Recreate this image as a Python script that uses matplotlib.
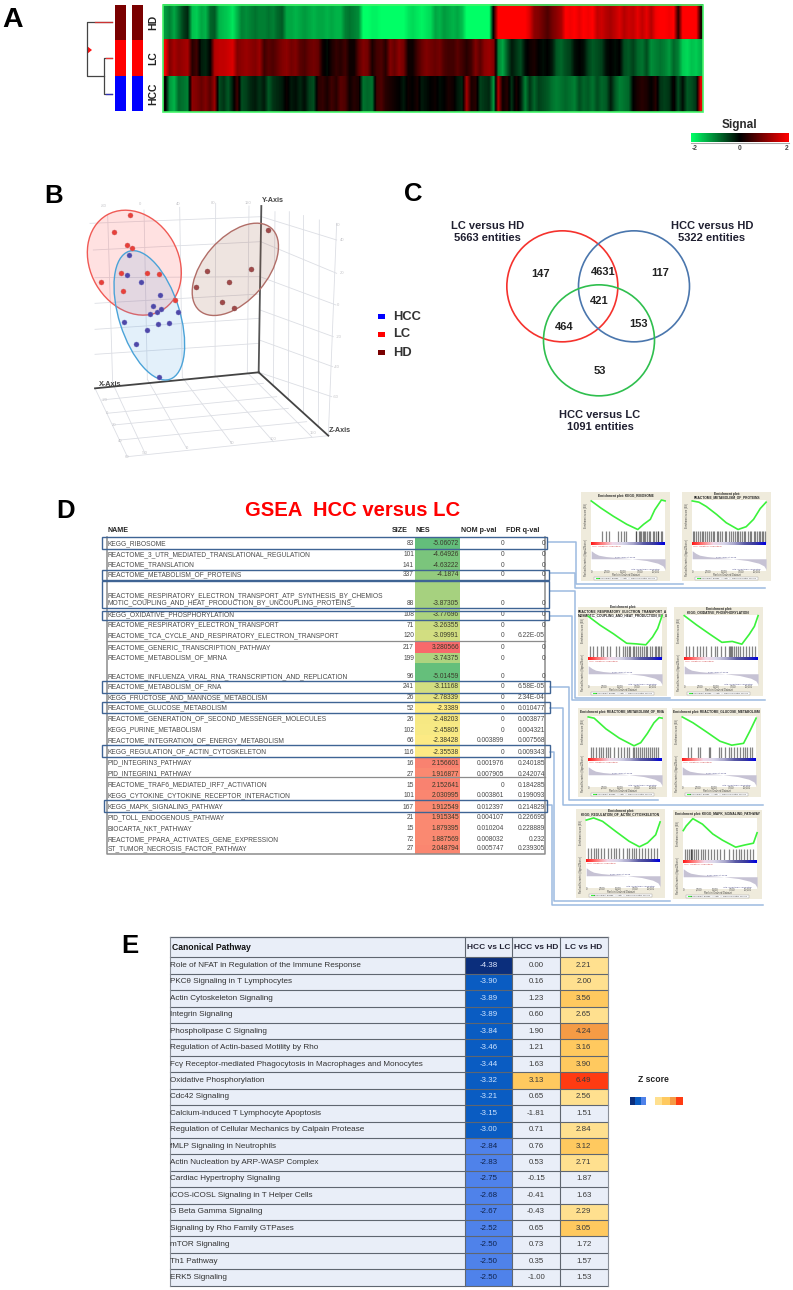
import numpy as np
import matplotlib
matplotlib.use("Agg")
import matplotlib.pyplot as plt
from matplotlib.colors import LinearSegmentedColormap
from matplotlib.patches import Ellipse, Circle, Rectangle

plt.rcParams['font.family'] = ['Liberation Sans', 'DejaVu Sans']

W, H = 793, 1290

###############################################################################
#Data
###############################################################################
#Panel A - signal per gene cluster
hd_signal = [-1.2,-1.0,-1.3,-0.9,-0.5,-0.3, -1.5,-1.6,-1.3,-1.4, -0.8,-0.7, -1.4,-1.5,-1.6,-1.8,-1.4,
             -1.0,-1.1,-1.0,-0.9,-1.0,-1.0,-0.9,-1.0,-0.8,-0.7,
             -1.3,-1.3,-1.4,-1.3,-1.2,-1.3,-1.4,-1.3,-1.3,-1.4,-1.3,-1.4,-1.4,
             -1.0,-0.9,-1.0,-1.1,
             -2,-2,-1.9,-1.9,-2,-2,-2,-2,-2,-2,-1.8,-1.7,-1.8,-1.9,-1.8,-1.7,
             -1.3,-1.4,-1.2,-1.3,-1.4,-1.3,-1.5, -2,-2,-2,-2,-2,-2, 0.2,
             2,2,2,2,2,2,2, 1.7, 1.1,1.0,0.8,0.6,0.9,1.1,1.3,
             2,1.9,2,1.8,2,1.9,2, 1.5,1.6,1.4,1.3,1.5,1.7,1.4,1.6,1.5,1.8,
             1.5,1.8,1.4,1.9,2,2,1.9,2, 0.3, 2,2,2,2, 0.2]
lc_signal = [1.9, 1.0,1.3,1.1,1.2,1.3, 0.3,0.5, -0.2,-0.3,0.0, 1.4,1.5,1.5,1.6,1.7,
             1.0,1.1,1.2,1.1,1.0,1.2, 0.5,0.7,0.6,0.8, 1.0,1.1,0.9,1.0,0.7,0.6,0.8,0.9,0.8,
             0.1,-0.1,0.2,0.4,0.3,0.5,0.1,0.1, 0.7,1.0,0.9, 0.2,0.5,0.6,0.3, 1.0,0.8,1.1,0.9,
             0.1,0.1, 0.5,0.8,1.0,0.9,
             0.8,0.9,0.6,0.5,0.5,0.7,0.5, 0.3,0.5,1.0,0.7,1.1,1.2, 1.0,
             -1.0,-1.3,-0.7, -0.2,-0.4,-0.6,-0.1, 0.1,0.2,0.0,-0.1,0.0,-0.2,
             -0.7,-0.8,-0.6,-0.5, -0.1,0,-0.1, -0.5,-0.7,-0.6,-0.5, -0.1,0.0,-0.1,0.0,
             -0.6,-0.7,-0.5,-0.8,-0.9,-0.6, -1.1,-1.0,-0.9,-1.0,-1.2,-0.8,-1.0,
             -1.6,-1.7,-1.5,-1.6, -1.4]
hcc_signal = [0.1, -1.2,-1.4,-0.8,-0.9,-1.0, 1.1,1.0,0.8,1.0,0.7,1.2, -0.6,-0.4,-0.7,-0.2, 0.5,
              -0.6,-0.5,-0.3,-0.2,-0.4,-0.2, -0.7,-0.4,-0.3,-0.2, 0.1,-0.2,-0.1,-0.3,-0.1,-0.5,-0.6,
              0.3,0.4,0.2,0.5,0.3,0.7,0.6,0.1,0.3,0.2, -0.9,-0.8,-0.9,
              0.5,0.6,0.3,0.2,0.1,0.0,-0.2,0.1,0.0,0.2,-0.2,-0.1,0.0,
              0.1,-0.1,0.0,0.2,0.1,-0.2,-0.3, 1.3, 0.2,0.3, -0.5,-0.4,-0.3, -1.2, 1.4,
              0.1,0.3,-0.4,0.2,-0.2, -1.0,-0.4,-0.8,-0.5,-0.6,
              -0.7,-0.9,-1.0,-0.9,-0.8,-0.9,-1.0, -0.6,-0.8,-0.7,-0.9,-0.6,-0.8,-0.7,
              -0.2,-0.7,-1.0,-0.9,-0.8, 0.0,0.2,0.3,0.2,0.0,0.3, -0.4,-0.5,-0.4,
              0.1,-0.6, -0.1,-0.7,-0.6,-0.4, 1.8]
group_labels = ["HD", "LC", "HCC"]
group_colors = ["#7a0000", "#ff0000", "#0000ff"]
signal_ticks = [-2, 0, 2]

#Panel B - 3D PCA, projected positions
lc_x = [271,222,260,275,243,321,357,184,248,406]
lc_y = [136,187,226,234,309,309,311,336,363,390]
hcc_x = [268,261,302,360,340,363,351,330,413,252,388,354,322,288,358]
hcc_y = [254,315,336,375,407,417,427,432,425,457,459,463,480,522,620]
hd_x = [683,502,632,568,467,546,581]
hd_y = [180,304,297,336,351,397,415]

#Panel C - venn counts
venn_counts = ["147", "4631", "117", "421", "464", "153", "53"]
venn_sets = ["LC versus HD\n5663 entities", "HCC versus HD\n5322 entities", "HCC versus LC\n1091 entities"]

#Panel D - GSEA table
gsea_names = ["KEGG_RIBOSOME", "REACTOME_3_UTR_MEDIATED_TRANSLATIONAL_REGULATION", "REACTOME_TRANSLATION",
              "REACTOME_METABOLISM_OF_PROTEINS",
              "REACTOME_RESPIRATORY_ELECTRON_TRANSPORT_ATP_SYNTHESIS_BY_CHEMIOS\nMOTIC_COUPLING_AND_HEAT_PRODUCTION_BY_UNCOUPLING_PROTEINS_",
              "KEGG_OXIDATIVE_PHOSPHORYLATION", "REACTOME_RESPIRATORY_ELECTRON_TRANSPORT",
              "REACTOME_TCA_CYCLE_AND_RESPIRATORY_ELECTRON_TRANSPORT", "REACTOME_GENERIC_TRANSCRIPTION_PATHWAY",
              "REACTOME_METABOLISM_OF_MRNA", "REACTOME_INFLUENZA_VIRAL_RNA_TRANSCRIPTION_AND_REPLICATION",
              "REACTOME_METABOLISM_OF_RNA", "KEGG_FRUCTOSE_AND_MANNOSE_METABOLISM", "REACTOME_GLUCOSE_METABOLISM",
              "REACTOME_GENERATION_OF_SECOND_MESSENGER_MOLECULES", "KEGG_PURINE_METABOLISM",
              "REACTOME_INTEGRATION_OF_ENERGY_METABOLISM", "KEGG_REGULATION_OF_ACTIN_CYTOSKELETON",
              "PID_INTEGRIN3_PATHWAY", "PID_INTEGRIN1_PATHWAY", "REACTOME_TRAF6_MEDIATED_IRF7_ACTIVATION",
              "KEGG_CYTOKINE_CYTOKINE_RECEPTOR_INTERACTION", "KEGG_MAPK_SIGNALING_PATHWAY", "PID_TOLL_ENDOGENOUS_PATHWAY",
              "BIOCARTA_NKT_PATHWAY", "REACTOME_PPARA_ACTIVATES_GENE_EXPRESSION", "ST_TUMOR_NECROSIS_FACTOR_PATHWAY"]
gsea_size = [83,101,141,337,88,108,71,120,217,199,96,241,26,52,26,102,66,116,16,27,15,101,167,21,15,72,27]
gsea_nes = ["-5.06072","-4.64926","-4.63222","-4.1874","-3.87305","-3.77696","-3.26355","-3.09991","3.280566",
            "-3.74375","-5.01459","-3.11168","-2.78339","-2.3389","-2.48203","-2.45805","-2.38428","-2.35538",
            "2.156601","1.916877","2.152641","2.030995","1.912549","1.915345","1.879395","1.887569","2.048794"]
gsea_nom = ["0","0","0","0","0","0","0","0","0","0","0","0","0","0","0","0","0.003899","0",
            "0.001976","0.007905","0","0.003861","0.012397","0.004107","0.010204","0.008032","0.005747"]
gsea_fdr = ["0","0","0","0","0","0","0","6.22E-05","0","0","0","6.58E-05","2.34E-04","0.010477","0.003877","0.004321",
            "0.007568","0.009343","0.240185","0.242074","0.184285","0.199093","0.214829","0.226695","0.228889","0.232","0.239305"]
gsea_row_bottom = [548.7,559.7,570.3,580,608.3,620,630.3,640.7,652.7,663.3,681.7,691.7,702.7,713.3,724.3,735.3,746,
                   757.3,768.3,779.3,790.3,801,812.3,823,834,845,853.7]

#Panel D - enrichment plot thumbnails
es_titles = ["Enrichment plot: KEGG_RIBOSOME", "Enrichment plot:\nREACTOME_METABOLISM_OF_PROTEINS",
             "Enrichment plot:\nREACTOME_RESPIRATORY_ELECTRON_TRANSPORT_A\nMOSMOTIC_COUPLING_AND_HEAT_PRODUCTION_BY_U",
             "Enrichment plot:\nKEGG_OXIDATIVE_PHOSPHORYLATION", "Enrichment plot: REACTOME_METABOLISM_OF_RNA",
             "Enrichment plot: REACTOME_GLUCOSE_METABOLISM",
             "Enrichment plot:\nKEGG_REGULATION_OF_ACTIN_CYTOSKELETON", "Enrichment plot: KEGG_MAPK_SIGNALING_PATHWAY"]
es_x = [[0,.13,.3,.48,.63,.71,.8,.86,.95,1],
        [0,.09,.19,.33,.46,.62,.73,.83,.92,1],
        [0,.16,.34,.52,.65,.78,.87,.94,1],
        [0,.165,.35,.51,.65,.78,.88,.95,1],
        [0,.08,.24,.42,.62,.71,.8,.89,.96,1],
        [0,.145,.33,.51,.67,.83,.92,1],
        [0,.1,.22,.4,.58,.72,.83,.94,1],
        [0,.04,.13,.26,.4,.53,.71,.83,.95,1]]
es_y = [[.03,.26,.53,.79,.96,.79,.63,.32,0,.03],
        [.03,.07,.21,.47,.74,.96,.87,.63,.28,.07],
        [.04,.33,.61,.92,.94,.97,.72,.44,.02],
        [.02,.32,.63,.89,.86,.95,.63,.37,.02],
        [.03,.07,.42,.72,.97,.87,.57,.22,.05,.07],
        [.03,.22,.52,.82,.95,.89,.47,.07],
        [.1,.03,.14,.47,.79,.97,.84,.58,.16],
        [.41,.26,.02,.2,.52,.72,.95,.88,.82,.48]]
es_hits = [[.15,.2,.24,.36,.4,.44,.47,.6,.61,.64,.66,.68,.7,.72,.73,.75,.78,.8,.83,.85,.87,.9,.91,.94,.96],
           [.01,.03,.05,.08,.1,.13,.14,.17,.2,.23,.26,.28,.3,.33,.35,.38,.4,.44,.46,.5,.53,.55,.58,.6,.62,.65,.68,.7,.72,.75,.78,.8,.83,.85,.88,.9,.92,.94,.96,.98],
           [.03,.07,.12,.17,.2,.25,.3,.38,.41,.47,.5,.52,.55,.57,.6,.62,.64,.67,.7,.73,.75,.78,.8,.83,.86,.9,.92,.94,.96,.98],
           [.03,.06,.12,.17,.22,.26,.3,.36,.41,.45,.5,.55,.6,.62,.63,.64,.67,.7,.73,.76,.8,.83,.88,.92,.96],
           [.04,.07,.1,.14,.17,.2,.24,.27,.3,.35,.4,.44,.48,.52,.55,.6,.62,.65,.68,.7,.73,.76,.78,.81,.84,.86,.89,.92,.95],
           [.08,.12,.22,.24,.36,.38,.5,.52,.58,.63,.66,.7,.74,.78,.82,.85,.88,.92,.95],
           [.03,.06,.1,.13,.16,.2,.24,.3,.33,.37,.4,.45,.5,.55,.58,.62,.65,.68,.72,.76,.8,.84,.88,.92,.96],
           [.02,.05,.08,.1,.11,.12,.14,.17,.2,.24,.27,.3,.33,.37,.42,.46,.5,.55,.62,.68,.72,.75,.78,.82,.86,.9,.94]]
rank_x = [0,.05,.1,.2,.4,.55,.75,.9,.97,1]
rank_y = [.66,.69,.71,.725,.74,.75,.77,.8,.83,.87]

#Panel E - Canonical pathways
path_names = ["Role of NFAT in Regulation of the Immune Response", "PKCθ Signaling in T Lymphocytes",
              "Actin Cytoskeleton Signaling", "Integrin Signaling", "Phospholipase C Signaling",
              "Regulation of Actin-based Motility by Rho",
              "Fcγ Receptor-mediated Phagocytosis in Macrophages and Monocytes", "Oxidative Phosphorylation",
              "Cdc42 Signaling", "Calcium-induced T Lymphocyte Apoptosis", "Regulation of Cellular Mechanics by Calpain Protease",
              "fMLP Signaling in Neutrophils", "Actin Nucleation by ARP-WASP Complex", "Cardiac Hypertrophy Signaling",
              "iCOS-iCOSL Signaling in T Helper Cells", "G Beta Gamma Signaling", "Signaling by Rho Family GTPases",
              "mTOR Signaling", "Th1 Pathway", "ERK5 Signaling"]
z_hcc_lc = [-4.38,-3.90,-3.89,-3.89,-3.84,-3.46,-3.44,-3.32,-3.21,-3.15,-3.00,-2.84,-2.83,-2.75,-2.68,-2.67,-2.52,-2.50,-2.50,-2.50]
z_hcc_hd = [0.00,0.16,1.23,0.60,1.90,1.21,1.63,3.13,0.65,-1.81,0.71,0.76,0.53,-0.15,-0.41,-0.43,0.65,0.73,0.35,-1.00]
z_lc_hd = [2.21,2.00,3.56,2.65,4.24,3.16,3.90,6.49,2.56,1.51,2.84,3.12,2.71,1.87,1.63,2.29,3.05,1.72,1.57,1.53]
z_headers = ["HCC vs LC", "HCC vs HD", "LC vs HD"]

###############################################################################
#Helpers
###############################################################################
fig = plt.figure(figsize=(W/100, H/100), dpi=100)

#Axes over a pixel box of the page, coordinates are pixels times s
def panel(x, y, w, h, s=1):
    ax = fig.add_axes([x/W, 1-(y+h)/H, w/W, h/H])
    ax.set_xlim(0, w*s)
    ax.set_ylim(h*s, 0)
    ax.axis("off")
    ax.patch.set_alpha(0)
    return ax

page = panel(0, 0, W, H)
dark = "#2b2b2b"

#Panel letters
for letter, lx, ly, fs in [("A",13,20,20.5),("B",54,196,18.5),("C",413,194,18.5),("D",66,511,18.5),("E",130,946,18.5)]:
    page.text(lx, ly, letter, fontsize=fs, fontweight="bold", color="black", ha="center", va="center")

###############################################################################
#Panel A
###############################################################################
signal_cmap = LinearSegmentedColormap.from_list("signal", ["#00ff66", "#000000", "#ff0000"])
row_edges = [5, 39.5, 76, 112]
for i, row in enumerate((hd_signal, lc_signal, hcc_signal)):
    #One image per row so the blur stays inside the row
    page.imshow(np.array(row).reshape(1, -1), cmap=signal_cmap, vmin=-2, vmax=2, aspect="auto",
                extent=(163, 703, row_edges[i+1], row_edges[i]), interpolation="bilinear")
page.add_patch(Rectangle((163, 5), 540, 107, fill=False, edgecolor="#45f56a", linewidth=1.2))

#Group side bars
group_edges = [5, 40, 76, 111]
for i in range(3):
    for bx in (115, 132):
        page.add_patch(Rectangle((bx, group_edges[i]), 11, group_edges[i+1]-group_edges[i], color=group_colors[i], linewidth=0))
    page.text(153, (group_edges[i]+group_edges[i+1])/2, group_labels[i], rotation=90, fontsize=7.5,
              fontweight="bold", color="#222222", ha="center", va="center")

#Dendrogram
page.plot([112,87,87,104], [22,22,76,76], color="#444444", lw=0.9)
page.plot([95,112], [22,22], color="#cc3333", lw=0.9)
page.plot([112,104,104,112], [58,58,94,94], color="#444444", lw=0.9)
page.plot([106,112], [58,58], color="#ee3333", lw=0.9)
page.plot([106,112], [94,94], color="#3333bb", lw=0.9)
page.fill([87,87,92], [46,54,50], color="#ff1111", linewidth=0)

#Signal scale
ramp = np.linspace(-2, 2, 98).reshape(1, -1)
page.imshow(ramp, cmap=signal_cmap, vmin=-2, vmax=2, aspect="auto", extent=(691, 789, 142, 133))
page.plot([691,789], [143,143], color="#aaaaaa", lw=0.8)
page.text(739, 125, "Signal", fontsize=8.5, fontweight="bold", color=dark, ha="center", va="center")
for tick, tx in zip(signal_ticks, (695, 740, 787)):
    page.text(tx, 149, str(tick), fontsize=4.8, fontweight="bold", color="#444444", ha="center", va="center")
page.set_xlim(0, W)
page.set_ylim(H, 0)

###############################################################################
#Panel B
###############################################################################
b = panel(40, 170, 400, 300, 3)

#Pseudo 3D box
grid_lines = [((203,135),(218,640)), ((312,120),(322,628)), ((419,112),(427,622)), ((527,100),(525,615)), ((627,108),(622,608)),
              ((150,160),(664,140)), ((160,240),(662,215)), ((165,323),(660,320)), ((165,400),(660,372)), ((165,478),(658,445)), ((165,553),(657,520)),
              ((705,125),(700,650)), ((748,125),(745,690)), ((790,135),(790,730)), ((838,150),(835,770)), ((890,160),(865,797)),
              ((664,140),(890,210)), ((662,215),(890,310)), ((660,320),(888,405)), ((660,420),(880,500)), ((658,510),(878,590)), ((656,607),(875,680)),
              ((218,640),(315,850)), ((322,628),(440,835)), ((427,622),(575,820)), ((525,615),(700,815)), ((622,608),(815,800)),
              ((185,690),(670,640)), ((200,730),(710,680)), ((220,765),(745,715)), ((240,810),(800,755)), ((262,860),(865,797)), ((165,655),(262,860))]
for p0, p1 in grid_lines:
    b.plot([p0[0],p1[0]], [p0[1],p1[1]], color="#dcdee4", lw=0.6, zorder=1)
b.plot([664,656], [108,607], color="#555555", lw=1.3, zorder=2)
b.plot([165,656], [655,607], color="#444444", lw=1.3, zorder=2)
b.plot([656,865], [607,797], color="#444444", lw=1.3, zorder=2)
for label, ax_x, ax_y in [("Y-Axis",700,90), ("X-Axis",210,645), ("Z-Axis",898,781)]:
    b.text(ax_x, ax_y, label, fontsize=5.2, fontweight="bold", color="#444444", ha="center", va="center", zorder=5)
axis_ticks = [("60",895,165),("40",907,210),("20",905,310),("0",893,405),("-20",895,500),("-40",890,590),("-60",888,680),
              ("-80",190,108),("0",300,103),("40",415,102),("80",520,100),("120",625,98),
              ("-20",195,690),("0",202,728),("20",222,765),("40",240,812),("60",262,860),
              ("-50",315,850),("0",440,833),("50",575,820),("100",700,808),("150",820,790)]
for label, ax_x, ax_y in axis_ticks:
    b.text(ax_x, ax_y, label, fontsize=3, color="#c4c4c8", ha="center", va="center")

b.add_patch(Ellipse((283,278), 330, 264, angle=60, facecolor=(1,0.3,0.3,0.17), edgecolor="#f05a55", lw=1, zorder=3))
b.add_patch(Ellipse((328,436), 403, 182, angle=72.4, facecolor=(0.35,0.65,0.9,0.17), edgecolor="#4ba3d8", lw=1, zorder=3))
b.add_patch(Ellipse((586,298), 328, 190, angle=-48.9, facecolor=(0.55,0.25,0.15,0.14), edgecolor="#b16e68", lw=1, zorder=3))
b.scatter(lc_x, lc_y, s=13, color="#e8403a", edgecolor="#cc6666", linewidth=0.3, zorder=4)
b.scatter(hcc_x, hcc_y, s=13, color="#4f48a8", edgecolor="#7070c0", linewidth=0.3, zorder=4)
b.scatter(hd_x, hd_y, s=13, color="#a04a4a", edgecolor="#885050", linewidth=0.3, zorder=4)

for i, (label, color) in enumerate(zip(["HCC","LC","HD"], ["#0000ff","#ff0000","#7a0000"])):
    ly = [440,493,548][i]
    b.add_patch(Rectangle((1015,ly-8), 21, 16, color=color, linewidth=0))
    b.text(1058, ly, label, fontsize=9.3, fontweight="bold", color="#333333", ha="left", va="center")

###############################################################################
#Panel C
###############################################################################
c = panel(400, 170, 393, 270, 3)
for cx, cy, color in [(487,349,"#f5322d"), (702,349,"#4a76ad"), (597,511,"#2fbf4e")]:
    c.add_patch(Circle((cx,cy), 166.5, fill=False, edgecolor=color, lw=1.2))
for label, sx, sy in zip(venn_sets, (262,936,600), (185,185,754)):
    c.text(sx, sy, label, fontsize=8, fontweight="bold", color="#1f1f30", ha="center", va="center", linespacing=1.25)
count_x = [421,610,780,597,492,715,599]
count_y = [312,306,310,393,472,462,604]
for label, nx, ny in zip(venn_counts, count_x, count_y):
    c.text(nx, ny, label, fontsize=8, fontweight="bold", color="#222222", ha="center", va="center")

###############################################################################
#Panel D - table
###############################################################################
page.text(353, 510, "GSEA  HCC versus LC", fontsize=14.6, fontweight="bold", color="#ff0000", ha="center", va="center")

nes_cmap = LinearSegmentedColormap.from_list("nes", ["#63BE7B", "#FFEB84", "#F8696B"])
def nes_color(v):
    if v <= -2.33:
        return nes_cmap(0.5*(v+5.06)/(5.06-2.33))
    return nes_cmap(0.5+0.5*(v+2.33)/(3.28+2.33))

gray_txt = "#4a4a4a"
fs_d = 4.75
header_d = [("NAME",108,"left"), ("SIZE",392,"left"), ("NES",416,"left"), ("NOM p-val",461,"left"), ("FDR q-val",506,"left")]
for label, hx, ha in header_d:
    page.text(hx, 531, label, fontsize=5.1, fontweight="bold", color="#222222", ha=ha, va="center")

top = 536.7
for i, name in enumerate(gsea_names):
    bottom = gsea_row_bottom[i]
    page.add_patch(Rectangle((415,top), 45, bottom-top, facecolor=nes_color(float(gsea_nes[i])), linewidth=0, zorder=1))
    ty = bottom-5.2
    lines = name.split("\n")
    for k, line in enumerate(lines):
        page.text(108, ty-7.6*(len(lines)-1-k), line, fontsize=fs_d, color=gray_txt, ha="left", va="center", zorder=3)
    page.text(414, ty, str(gsea_size[i]), fontsize=fs_d, color=gray_txt, ha="right", va="center", zorder=3)
    page.text(459, ty, gsea_nes[i], fontsize=fs_d, color="#3a3a2a", ha="right", va="center", zorder=3)
    page.text(504, ty, gsea_nom[i], fontsize=fs_d, color=gray_txt, ha="right", va="center", zorder=3)
    page.text(545, ty, gsea_fdr[i], fontsize=fs_d, color=gray_txt, ha="right", va="center", zorder=3)
    top = bottom

#Gray frame and heavier separators
page.plot([107,107,545,545], [537,853.7,853.7,537], color="#8c8c8c", lw=1.1, zorder=2)
for sep in (640.7, 777):
    page.plot([107,545], [sep,sep], color="#8c8c8c", lw=0.9, zorder=2)

#Highlight boxes
boxes = [(101.7,536.7,547.3,549), (101.7,570,549.3,580), (101.7,580.7,549.3,608.3), (101.7,610.7,549.3,620),
         (101.7,680.7,550,692.7), (101.7,701.7,550,713.3), (101.7,745,550,757.3), (104,800,547.3,812.3)]
for x0, y0, x1, y1 in boxes:
    page.add_patch(Rectangle((x0,y0), x1-x0, y1-y0, fill=False, edgecolor="#3f6494", lw=1.0, zorder=4))

#Connector lines to the enrichment plots
connectors = [[(548,542.3),(576,542.3),(576,584),(683,584)],
              [(550,573.3),(575,573.3),(575,588.3),(765,588.3)],
              [(550,591),(574.7,591),(574.7,698.3),(670,698.3)],
              [(550,616),(571.7,616),(571.7,700),(765,700)],
              [(550,686.7),(569.3,686.7),(569.3,800),(658,800)],
              [(550,708),(562.7,708),(562.7,805.3),(763,805.3)],
              [(550,752),(554,752),(554,901),(670,901)],
              [(547,805),(551.7,805),(551.7,904.5),(763,904.5)]]
for seg in connectors:
    page.plot([p[0] for p in seg], [p[1] for p in seg], color="#9dbbe0", lw=1.1, zorder=1)

###############################################################################
#Panel D - enrichment thumbnails
###############################################################################
strip_cmap = LinearSegmentedColormap.from_list("strip", ["#ff1a1a","#ff7f7f","#f2d8e8","#d8d6ea","#a8a6cc","#5a5aa5","#3a3aa0","#0000e0"])

def enrichment(px, py, title, xs, ys, hits):
    ax = panel(px, py, 89, 89)
    ax.set_xlim(0, 1)
    ax.set_ylim(1, 0)
    l, r = 0.115, 0.945
    three = title.count("\n") == 2
    ax.add_patch(Rectangle((0,0), 1, 1, facecolor="#efebdc", linewidth=0))
    ax.add_patch(Rectangle((l,0.085), r-l, 0.8, facecolor="white", linewidth=0))
    ax.text(0.5, 0.05 if three else 0.04, title, fontsize=2.35, fontweight="bold", color="#222222", ha="center", va="center", linespacing=1.0)
    ax.plot([l+(r-l)*v for v in xs], [0.09+0.345*v for v in ys], color="#3bf23b", lw=1.2, zorder=3)
    ax.vlines([l+(r-l)*v for v in hits], 0.44, 0.573, color="#222222", lw=0.9, alpha=0.55, zorder=3)
    ax.imshow(np.linspace(0,1,64).reshape(1,-1), cmap=strip_cmap, aspect="auto", extent=(l,r,0.6,0.573), zorder=3)
    rx = [l+(r-l)*v for v in rank_x]
    ax.fill_between(rx, rank_y, 0.75, color="#c6c2d4", linewidth=0, zorder=2)
    for label, lx in zip(["0","2,500","5,000","7,500","10,000"], (0,.22,.44,.66,.88)):
        ax.text(l+(r-l)*lx, 0.898, label, fontsize=1.8, color="#444444", ha="center", va="center")
    ax.text(0.5, 0.93, "Rank in Ordered Dataset", fontsize=1.8, color="#444444", ha="center", va="center")
    ax.text(0.06, 0.27, "Enrichment score (ES)", fontsize=1.8, rotation=90, color="#444444", ha="center", va="center")
    ax.text(0.06, 0.74, "Ranked list metric (Signal2Noise)", fontsize=1.8, rotation=90, color="#444444", ha="center", va="center")
    ax.text(0.5, 0.73, "Zero cross at 5996", fontsize=1.7, color="#4a4a8a", ha="center", va="center", zorder=4)
    ax.text(0.72, 0.865, "'Ctrl' (negatively correlated)", fontsize=1.7, color="#4a4a8a", ha="center", va="center", zorder=4)
    ax.text(0.28, 0.615, "'Hcc' (positively correlated)", fontsize=1.7, color="#cc3333", ha="center", va="center", zorder=4)
    ax.add_patch(Rectangle((0.15,0.95), 0.7, 0.035, facecolor="white", edgecolor="#999999", lw=0.3))
    ax.plot([0.17,0.2], [0.967,0.967], color="#3bf23b", lw=0.8)
    ax.text(0.52, 0.967, "Enrichment profile  — Hits  — Ranking metric scores", fontsize=1.7, color="#444444", ha="center", va="center")
    ax.set_xlim(0, 1)
    ax.set_ylim(1, 0)

thumb_x = [581,682,578,674,578,672,576,673]
thumb_y = [492,492,607,607,708,708,809,810]
for i in range(8):
    enrichment(thumb_x[i], thumb_y[i], es_titles[i], es_x[i], es_y[i], es_hits[i])

###############################################################################
#Panel E
###############################################################################
tbl_bg = "#e9eef8"
col_edges = [170, 465, 512.3, 560, 607.7]
head_top, head_bottom, row_h = 937.3, 957.3, 16.42
tbl_bottom = head_bottom + row_h*len(path_names)
page.add_patch(Rectangle((col_edges[0],head_top), col_edges[-1]-col_edges[0], tbl_bottom-head_top, facecolor=tbl_bg, linewidth=0, zorder=1))

def hcc_lc_color(v):
    if v <= -4:
        return "#0b2e7c", "#dfe8ff"
    if v <= -3:
        return "#0a5cc2", "#cfe4ff"
    return "#4f82ea", "#10244e"

def pos_color(v):
    if v >= 6:
        return "#ff3b12"
    if v >= 4:
        return "#f59b45"
    if v >= 3:
        return "#ffc95f"
    if v >= 2:
        return "#ffe08f"
    return None

page.text(col_edges[0]+1.5, (head_top+head_bottom)/2, "Canonical Pathway", fontsize=6.2, fontweight="bold", color="#111111", ha="left", va="center", zorder=4)
for j, label in enumerate(z_headers):
    page.text((col_edges[j+1]+col_edges[j+2])/2, (head_top+head_bottom)/2, label, fontsize=6.0, fontweight="bold", color="#222233", ha="center", va="center", zorder=4)

for i, name in enumerate(path_names):
    y0 = head_bottom + i*row_h
    ym = y0 + row_h/2
    page.text(col_edges[0]+0.5, ym, name, fontsize=5.85, color="#333333", ha="left", va="center", zorder=4)
    fill, txt = hcc_lc_color(z_hcc_lc[i])
    page.add_patch(Rectangle((col_edges[1],y0), col_edges[2]-col_edges[1], row_h, facecolor=fill, linewidth=0, zorder=2))
    page.text((col_edges[1]+col_edges[2])/2, ym, "%.2f" % z_hcc_lc[i], fontsize=5.7, color=txt, ha="center", va="center", zorder=4)
    for j, vals in enumerate((z_hcc_hd, z_lc_hd)):
        fill = pos_color(vals[i])
        if fill is not None:
            page.add_patch(Rectangle((col_edges[j+2],y0), col_edges[j+3]-col_edges[j+2], row_h, facecolor=fill, linewidth=0, zorder=2))
        page.text((col_edges[j+2]+col_edges[j+3])/2, ym, "%.2f" % vals[i], fontsize=5.7, color="#3a3a3a", ha="center", va="center", zorder=4)

#Table rules
for i in range(len(path_names)+1):
    yl = head_bottom + i*row_h
    page.plot([col_edges[0],col_edges[-1]], [yl,yl], color="#5f6670", lw=0.8, zorder=3)
page.plot([col_edges[0],col_edges[-1]], [head_top,head_top], color="#5f6670", lw=0.9, zorder=3)
for j, xl in enumerate(col_edges):
    page.plot([xl,xl], [head_top,tbl_bottom], color="#5f6670" if j in (1,2,3) else "#8a8f98", lw=0.8, zorder=3)

#Z score key
page.text(653, 1080, "Z score", fontsize=6.2, fontweight="bold", color="#222222", ha="center", va="center")
key_colors = ["#0b2e7c","#0a5cc2","#4f82ea","#ffffff","#ffe08f","#ffc95f","#f59b45","#ff3b12"]
key_widths = [5,6,5,9,7,8,6,7]
kx = 630
for kc, kw in zip(key_colors, key_widths):
    page.add_patch(Rectangle((kx,1097), kw, 8, facecolor=kc, linewidth=0))
    kx += kw

fig.savefig("out.png", dpi=100)
